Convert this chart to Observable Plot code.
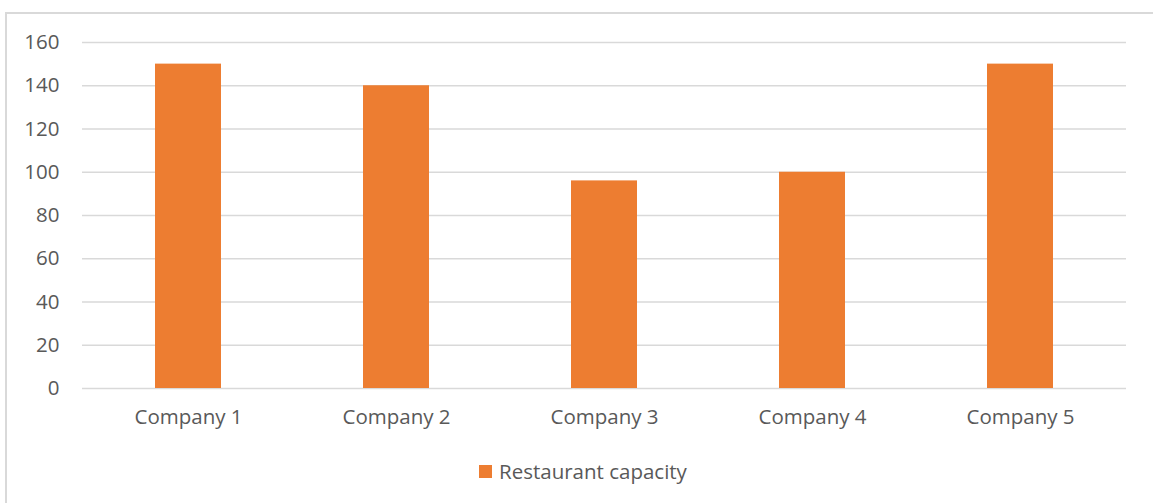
<!DOCTYPE html>
<html>
<head>
<meta charset="utf-8">
<script src="https://cdn.jsdelivr.net/npm/d3@7"></script>
<script src="https://cdn.jsdelivr.net/npm/@observablehq/plot@0.6"></script>
<style>
  html, body { margin: 0; padding: 0; background: #fff; overflow: hidden; }
  body { width: 1153px; height: 503px; position: relative; font-family: "Open Sans", sans-serif; }
  #frame { position: absolute; left: 5px; top: 12px; width: 1170px; height: 520px; border: 2px solid #d9d9d9; box-sizing: border-box; }
  #chart { position: absolute; left: 0; top: 0; }
  #legend { position: absolute; left: 479px; top: 457px; font-size: 20.5px; color: #595959; display: flex; align-items: center; }
  #legend .sw { width: 13px; height: 13px; margin-right: 7px; }
</style>
</head>
<body>
<div id="frame"></div>
<div id="chart"></div>
<div id="legend"></div>
<script>
const categories = ["Company 1", "Company 2", "Company 3", "Company 4", "Company 5"];
const capacity = [150, 140, 96, 100, 150];
const seriesName = "Restaurant capacity";
const yTicks = [0, 20, 40, 60, 80, 100, 120, 140, 160];
const barColor = "#ED7D31";

const data = categories.map((c, i) => ({category: c, value: capacity[i]}));

const chart = Plot.plot({
  width: 1153,
  height: 440,
  marginTop: 42,
  marginLeft: 82,
  marginRight: 27,
  marginBottom: 52,
  style: {fontFamily: "'Open Sans', sans-serif", fontSize: "20.5px", color: "#595959", background: "transparent"},
  x: {domain: categories, paddingInner: 0.684, paddingOuter: 0.342, label: null, tickSize: 0, tickPadding: 21},
  y: {domain: [0, 160], ticks: yTicks, label: null, tickSize: 0, tickPadding: 23},
  marks: [
    Plot.gridY(yTicks, {stroke: "#d9d9d9", strokeOpacity: 1, strokeWidth: 1.5}),
    Plot.barY(data, {x: "category", y: "value", fill: barColor}),
    Plot.axisY({ticks: yTicks, tickSize: 0, tickPadding: 23, label: null}),
    Plot.axisX({tickSize: 0, tickPadding: 21, label: null})
  ]
});
document.getElementById("chart").appendChild(chart);

const lg = document.getElementById("legend");
const sw = document.createElement("span");
sw.className = "sw";
sw.style.background = barColor;
lg.appendChild(sw);
const t = document.createElement("span");
t.textContent = seriesName;
lg.appendChild(t);
</script>
</body>
</html>
